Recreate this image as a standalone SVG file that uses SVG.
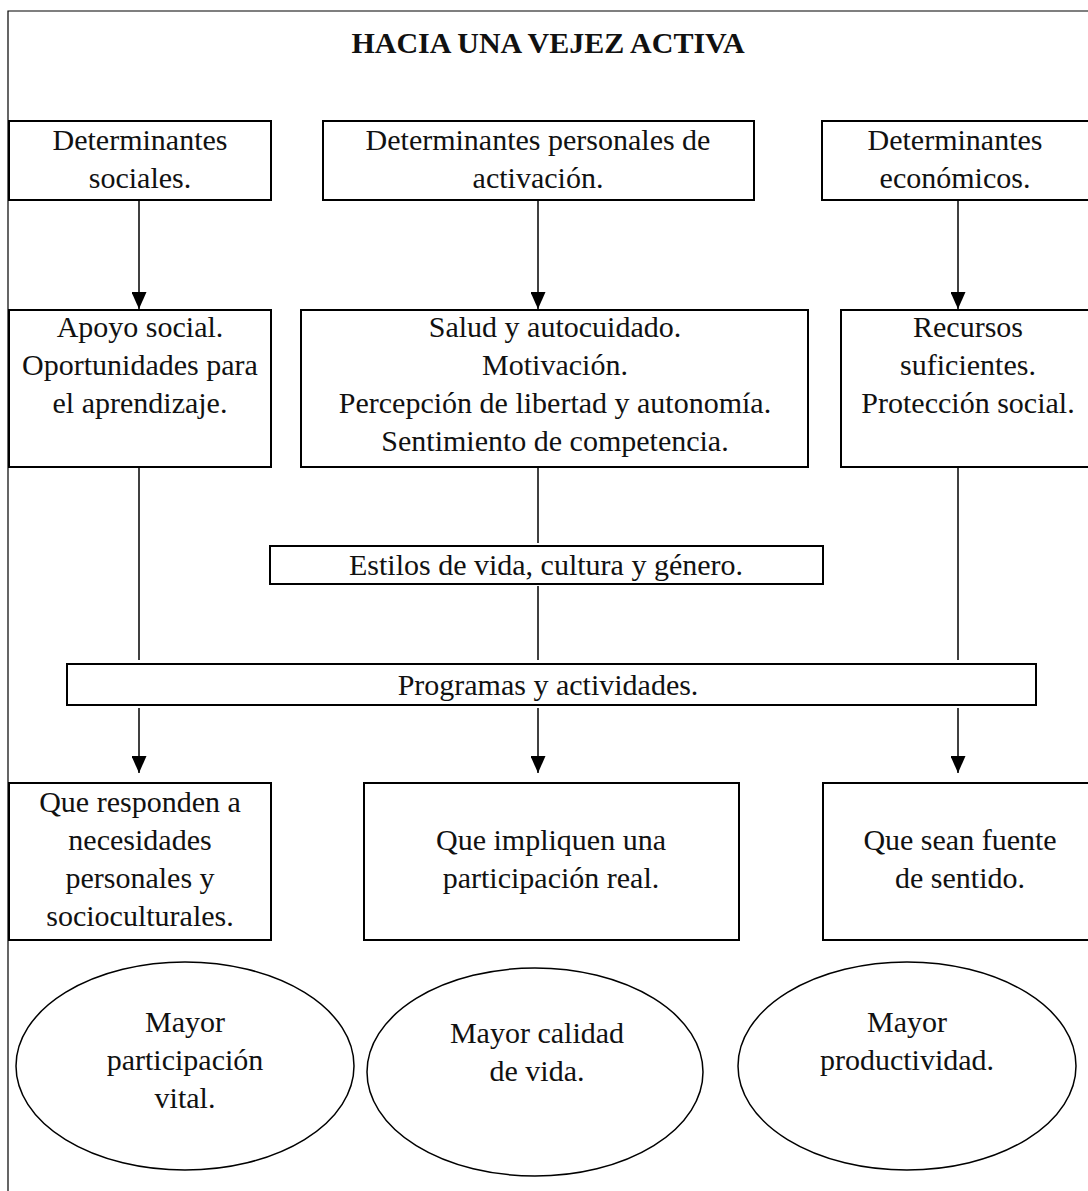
<svg xmlns="http://www.w3.org/2000/svg" width="1088" height="1191" viewBox="0 0 1088 1191">
  <style>
    .frame { fill: none; stroke: #000; stroke-width: 1.2; }
    .box { fill: #fff; stroke: #000; stroke-width: 2; }
    .oval { fill: #fff; stroke: #000; stroke-width: 1.5; }
    .link { fill: none; stroke: #000; stroke-width: 1.5; }
    text { font-family: "Liberation Serif", "Times New Roman", serif; font-size: 30px; fill: #111; text-anchor: middle; }
    .title { font-weight: bold; font-size: 30px; }
  </style>
  <defs>
    <marker id="arrow" markerUnits="userSpaceOnUse" markerWidth="17" markerHeight="15" refX="17" refY="7.5" orient="auto" viewBox="0 0 17 15">
      <path d="M0,0 L17,7.5 L0,15 Z" fill="#000"/>
    </marker>
  </defs>

  <rect width="1088" height="1191" fill="#fff"/>

  <!-- outer frame: top and left edges only -->
  <path class="frame" d="M1100,11 H8 V1200"/>

  <text class="title" x="548" y="53">HACIA UNA VEJEZ ACTIVA</text>

  <!-- connectors -->
  <g id="connectors">
    <line class="link" x1="139" y1="200" x2="139" y2="309" marker-end="url(#arrow)"/>
    <line class="link" x1="538" y1="200" x2="538" y2="309" marker-end="url(#arrow)"/>
    <line class="link" x1="958" y1="200" x2="958" y2="309" marker-end="url(#arrow)"/>

    <line class="link" x1="139" y1="467" x2="139" y2="660"/>
    <line class="link" x1="538" y1="467" x2="538" y2="543"/>
    <line class="link" x1="538" y1="586" x2="538" y2="660"/>
    <line class="link" x1="958" y1="467" x2="958" y2="660"/>

    <line class="link" x1="139" y1="708" x2="139" y2="773" marker-end="url(#arrow)"/>
    <line class="link" x1="538" y1="708" x2="538" y2="773" marker-end="url(#arrow)"/>
    <line class="link" x1="958" y1="708" x2="958" y2="773" marker-end="url(#arrow)"/>
  </g>

  <!-- top row: determinants -->
  <g id="det-sociales">
    <rect class="box" x="9" y="121" width="262" height="79"/>
    <text x="140" y="150">Determinantes</text>
    <text x="140" y="188">sociales.</text>
  </g>
  <g id="det-personales">
    <rect class="box" x="323" y="121" width="431" height="79"/>
    <text x="538" y="150">Determinantes personales de</text>
    <text x="538" y="188">activación.</text>
  </g>
  <g id="det-economicos">
    <rect class="box" x="822" y="121" width="280" height="79"/>
    <text x="955" y="150">Determinantes</text>
    <text x="955" y="188">económicos.</text>
  </g>

  <!-- middle row: factors -->
  <g id="factores-sociales">
    <rect class="box" x="9" y="310" width="262" height="157"/>
    <text x="140" y="337">Apoyo social.</text>
    <text x="140" y="375">Oportunidades para</text>
    <text x="140" y="413">el aprendizaje.</text>
  </g>
  <g id="factores-personales">
    <rect class="box" x="301" y="310" width="507" height="157"/>
    <text x="555" y="337">Salud y autocuidado.</text>
    <text x="555" y="375">Motivación.</text>
    <text x="555" y="413">Percepción de libertad y autonomía.</text>
    <text x="555" y="451">Sentimiento de competencia.</text>
  </g>
  <g id="factores-economicos">
    <rect class="box" x="841" y="310" width="260" height="157"/>
    <text x="968" y="337">Recursos</text>
    <text x="968" y="375">suficientes.</text>
    <text x="968" y="413">Protección social.</text>
  </g>

  <g id="estilos">
    <rect class="box" x="270" y="546" width="553" height="38"/>
    <text x="546" y="575">Estilos de vida, cultura y género.</text>
  </g>

  <g id="programas">
    <rect class="box" x="67" y="664" width="969" height="41"/>
    <text x="548" y="695">Programas y actividades.</text>
  </g>

  <!-- bottom row: program qualities -->
  <g id="necesidades">
    <rect class="box" x="9" y="783" width="262" height="157"/>
    <text x="140" y="812">Que responden a</text>
    <text x="140" y="850">necesidades</text>
    <text x="140" y="888">personales y</text>
    <text x="140" y="926">socioculturales.</text>
  </g>
  <g id="participacion">
    <rect class="box" x="364" y="783" width="375" height="157"/>
    <text x="551" y="850">Que impliquen una</text>
    <text x="551" y="888">participación real.</text>
  </g>
  <g id="sentido">
    <rect class="box" x="823" y="783" width="278" height="157"/>
    <text x="960" y="850">Que sean fuente</text>
    <text x="960" y="888">de sentido.</text>
  </g>

  <!-- outcomes -->
  <g id="mayor-participacion">
    <ellipse class="oval" cx="185" cy="1066" rx="169" ry="104"/>
    <text x="185" y="1032">Mayor</text>
    <text x="185" y="1070">participación</text>
    <text x="185" y="1108">vital.</text>
  </g>
  <g id="mayor-calidad">
    <ellipse class="oval" cx="535" cy="1072" rx="168" ry="104"/>
    <text x="537" y="1043">Mayor calidad</text>
    <text x="537" y="1081">de vida.</text>
  </g>
  <g id="mayor-productividad">
    <ellipse class="oval" cx="907" cy="1066" rx="169" ry="104"/>
    <text x="907" y="1032">Mayor</text>
    <text x="907" y="1070">productividad.</text>
  </g>
</svg>
